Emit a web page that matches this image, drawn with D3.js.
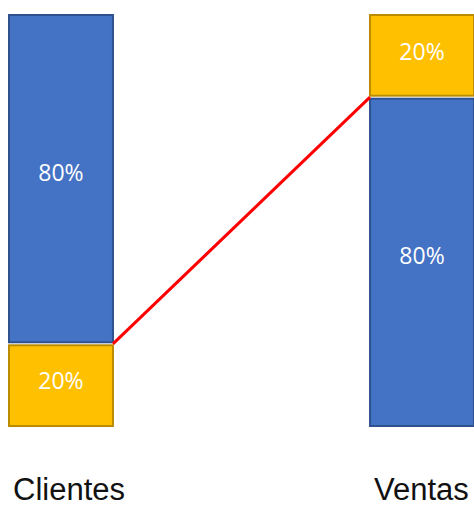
<!DOCTYPE html>
<html>
<head>
<meta charset="utf-8">
<script src="https://cdn.jsdelivr.net/npm/d3@7"></script>
<style>
  body { margin: 0; background: #fff; }
  svg { display: block; }
</style>
</head>
<body>
<script>
// categories and stacked shares (bottom segment first)
var categories = ["Clientes", "Ventas"];
var bottomShare = [20, 80];
var topShare = [80, 20];
var bottomKind = ["gold", "blue"];
var topKind = ["blue", "gold"];

var colors = {
    blue: {fill: "#4472C4", stroke: "#2F528F"},
    gold: {fill: "#FFC000", stroke: "#BC8C00"}
};

var svg = d3.select("body").append("svg").attr("width", 474).attr("height", 508);

var x = d3.scaleBand().domain(categories).range([9, 474]).paddingInner(0.712).paddingOuter(0);
var y = d3.scaleLinear().domain([0, 100]).range([426, 15]);

var gap = 1.5;

var segs = [];
categories.forEach(function (c, i) {
    segs.push({cat: c, y0: 0, y1: bottomShare[i], kind: bottomKind[i], v: bottomShare[i]});
    segs.push({cat: c, y0: bottomShare[i], y1: bottomShare[i] + topShare[i], kind: topKind[i], v: topShare[i]});
});

var g = svg.append("g");

g.selectAll("rect.seg")
    .data(segs)
    .enter().append("rect")
    .attr("class", "seg")
    .attr("x", function (d) { return x(d.cat); })
    .attr("width", x.bandwidth())
    .attr("y", function (d) { return y(d.y1) + (d.y1 < 100 ? gap : 0); })
    .attr("height", function (d) {
        return y(d.y0) - y(d.y1) - (d.y1 < 100 ? gap : 0) - (d.y0 > 0 ? gap : 0);
    })
    .attr("fill", function (d) { return colors[d.kind].fill; })
    .attr("stroke", function (d) { return colors[d.kind].stroke; })
    .attr("stroke-width", 2);

g.selectAll("text.pct")
    .data(segs)
    .enter().append("text")
    .attr("class", "pct")
    .attr("x", function (d) { return x(d.cat) + x.bandwidth() / 2; })
    .attr("y", function (d) { return (y(d.y0) + y(d.y1)) / 2 - (d.v > 50 ? 6 : 4); })
    .attr("dy", "0.35em")
    .attr("text-anchor", "middle")
    .attr("fill", "#fff")
    .style("font-family", "'Open Sans', sans-serif")
    .style("font-size", "23px")
    .text(function (d) { return d.v + "%"; });

// connector between the two segment boundaries
svg.append("line")
    .attr("x1", x(categories[0]) + x.bandwidth())
    .attr("y1", y(bottomShare[0]))
    .attr("x2", x(categories[1]))
    .attr("y2", y(bottomShare[1]))
    .attr("stroke", "#FF0000")
    .attr("stroke-width", 3);

svg.selectAll("text.cat")
    .data(categories)
    .enter().append("text")
    .attr("class", "cat")
    .attr("x", function (d) { return x(d) + 4; })
    .attr("y", 500)
    .attr("fill", "#111")
    .style("font-family", "'Liberation Sans', Arial, sans-serif")
    .style("font-size", "31px")
    .text(function (d) { return d; });
</script>
</body>
</html>
